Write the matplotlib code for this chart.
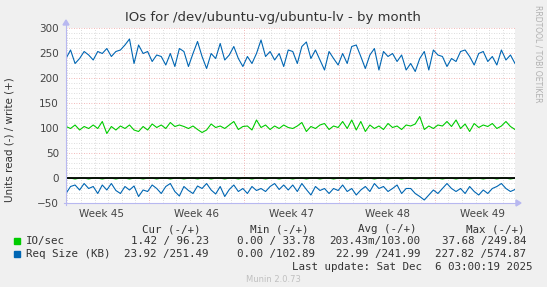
import numpy as np
import matplotlib
matplotlib.use("Agg")
import matplotlib.pyplot as plt

# Munin "IOs for /dev/ubuntu-vg/ubuntu-lv - by month" (33 days, 100 samples)
n_days = 33.0

blue_write = [239, 256, 229, 239, 253, 246, 236, 253, 249, 259,
              243, 253, 256, 266, 278, 229, 266, 249, 253, 233,
              246, 243, 226, 249, 223, 259, 253, 223, 249, 273,
              243, 219, 249, 239, 269, 236, 246, 263, 239, 223,
              243, 229, 249, 276, 243, 253, 236, 249, 223, 256,
              253, 229, 263, 272, 239, 256, 236, 216, 253, 239,
              226, 249, 229, 263, 266, 243, 219, 246, 259, 216,
              253, 243, 249, 233, 246, 216, 229, 213, 239, 253,
              216, 256, 246, 243, 223, 239, 233, 253, 256, 243,
              226, 249, 253, 233, 243, 226, 256, 236, 246, 229]

green_write = [103, 99, 106, 96, 103, 99, 106, 99, 113, 89,
               103, 96, 104, 99, 106, 96, 93, 103, 96, 108,
               101, 106, 99, 111, 103, 106, 103, 99, 104, 97,
               91, 96, 108, 101, 104, 99, 106, 113, 97, 103,
               104, 96, 116, 101, 106, 97, 104, 99, 106, 101,
               99, 104, 111, 93, 103, 99, 106, 109, 97, 104,
               101, 113, 99, 116, 96, 113, 93, 106, 99, 104,
               97, 109, 101, 104, 97, 106, 104, 108, 123, 97,
               104, 99, 106, 104, 113, 103, 116, 99, 108, 93,
               109, 101, 106, 103, 109, 99, 104, 113, 103, 97]

# read side, shown below zero
blue_read = [31, 17, 14, 24, 11, 21, 17, 31, 14, 24,
             11, 25, 31, 17, 24, 16, 37, 24, 27, 14,
             21, 31, 17, 11, 27, 36, 17, 25, 31, 16,
             21, 11, 24, 32, 17, 37, 23, 14, 27, 21,
             31, 17, 25, 21, 27, 17, 11, 23, 14, 24,
             14, 27, 11, 23, 34, 17, 25, 21, 31, 21,
             25, 14, 27, 21, 34, 24, 17, 27, 11, 21,
             17, 27, 21, 14, 31, 21, 21, 31, 37, 44,
             34, 24, 31, 21, 11, 21, 27, 21, 31, 17,
             27, 34, 24, 31, 21, 17, 11, 21, 27, 23]

green_read = [0.2, 0.2, 2.0, 0.2, 0.2, 2.0, 0.2, 0.2, 2.0, 0.2,
              0.2, 2.0, 0.2, 0.2, 2.0, 0.2, 0.2, 2.0, 0.2, 0.2,
              2.0, 0.2, 0.2, 2.0, 0.2, 0.2, 2.0, 0.2, 0.2, 2.0,
              0.2, 0.2, 2.0, 0.2, 0.2, 2.0, 0.2, 0.2, 2.0, 0.2,
              0.2, 2.0, 0.2, 0.2, 2.0, 0.2, 0.2, 2.0, 0.2, 0.2,
              2.0, 0.2, 0.2, 2.0, 0.2, 0.2, 2.0, 0.2, 0.2, 2.0,
              0.2, 0.2, 2.0, 0.2, 0.2, 2.0, 0.2, 0.2, 2.0, 0.2,
              0.2, 2.0, 0.2, 0.2, 2.0, 0.2, 0.2, 2.0, 0.2, 0.2,
              2.0, 0.2, 0.2, 2.0, 0.2, 0.2, 2.0, 0.2, 0.2, 2.0,
              0.2, 0.2, 2.0, 0.2, 0.2, 2.0, 0.2, 0.2, 2.0, 0.2]

week_labels = ["Week 45", "Week 46", "Week 47", "Week 48", "Week 49"]
week_starts = [6.1, 13.1, 20.1, 27.1]   # days from left edge

legend_rows = [
    ("IO/sec", "#00CC00", "1.42 / 96.23", "0.00 / 33.78", "203.43m/103.00", "37.68 /249.84"),
    ("Req Size (KB)", "#0066B3", "23.92 /251.49", "0.00 /102.89", "22.99 /241.99", "227.82 /574.87"),
]

W, H = 547, 287
fig = plt.figure(figsize=(W / 100, H / 100), dpi=100)
fig.patch.set_facecolor("#F0F0F0")

def fx(px):
    return px / W

def fy(py):
    return 1 - py / H

L, R, T, B = 66, 515, 28, 203
ax = fig.add_axes([fx(L), fy(B), fx(R - L), fy(T) - fy(B)])
ax.set_facecolor("white")
ax.set_xlim(0, n_days)
ax.set_ylim(-50, 300)
for s in ax.spines.values():
    s.set_visible(False)

# grid
minor_c, major_c = "#d0d0d0", "#eea0a0"
for v in range(-50, 301, 10):
    if v % 50:
        ax.axhline(v, color=minor_c, lw=0.6, ls=(0, (1, 2)), zorder=1)
    else:
        ax.axhline(v, color=major_c, lw=0.6, ls=(0, (1, 2)), zorder=1)
d = 0.1
while d < n_days:
    is_week = any(abs(d - w) < 1e-6 for w in week_starts)
    ax.axvline(d, color=major_c if is_week else minor_c, lw=0.6,
               ls=(0, (1, 2)), zorder=1)
    d = round(d + 1, 3)

t = np.linspace(0, n_days, len(blue_write))
ax.plot(t, -np.array(green_read), color="#00CC00", lw=0.8, zorder=3)
ax.axhline(0, color="black", lw=1.3, zorder=4)
ax.plot(t, -np.array(blue_read), color="#0066B3", lw=0.8, zorder=3)
ax.plot(t, green_write, color="#00CC00", lw=0.8, zorder=3)
ax.plot(t, blue_write, color="#0066B3", lw=0.8, zorder=3)

# ticks
ax.set_yticks(range(-50, 301, 50))
ax.tick_params(axis="y", length=0, pad=5, labelsize=7.5, labelcolor="#444444")
mids = [week_starts[0] - 3.5] + [w + 3.5 for w in week_starts]
ax.set_xticks(mids)
ax.set_xticklabels(week_labels)
ax.tick_params(axis="x", length=0, pad=4, labelsize=7.5, labelcolor="#444444")

# axis arrows
ax_c = "#b8b8f0"
fig.add_artist(plt.Line2D([fx(L), fx(L)], [fy(B + 2), fy(T - 4)], color=ax_c, lw=0.8))
fig.add_artist(plt.Line2D([fx(L - 2), fx(R + 2)], [fy(B), fy(B)], color=ax_c, lw=0.8))
fig.patches.append(matplotlib.patches.Polygon(
    [(fx(L - 3), fy(T - 3)), (fx(L + 3), fy(T - 3)), (fx(L), fy(T - 8))],
    closed=True, color=ax_c, transform=fig.transFigure))
fig.patches.append(matplotlib.patches.Polygon(
    [(fx(R + 1), fy(B - 3)), (fx(R + 1), fy(B + 3)), (fx(R + 6), fy(B))],
    closed=True, color=ax_c, transform=fig.transFigure))

fig.text(fx(273), fy(18), "IOs for /dev/ubuntu-vg/ubuntu-lv - by month",
         ha="center", va="center", fontsize=9.5, color="#333333")
fig.text(fx(10), fy(140), "Units read (-) / write (+)", rotation=90,
         ha="center", va="center", fontsize=7.5, color="#333333")
fig.text(fx(538), fy(5), "RRDTOOL / TOBI OETIKER", rotation=270,
         ha="center", va="top", fontsize=5.5, color="#b0b0b0")

# legend block
mono = dict(family="DejaVu Sans Mono", fontsize=7.8, color="#333333", va="center")
for txt, x in [("Cur (-/+)", 200), ("Min (-/+)", 308), ("Avg (-/+)", 416), ("Max (-/+)", 525)]:
    fig.text(fx(x), fy(229), txt, ha="right", **mono)
value_right = [209, 315, 420, 526]
for i, (name, col, *vals) in enumerate(legend_rows):
    y = 241 + 13 * i
    fig.patches.append(matplotlib.patches.Rectangle(
        (fx(14), fy(y + 3)), fx(5.5), fy(y - 3) - fy(y + 3),
        color=col, transform=fig.transFigure))
    fig.text(fx(26), fy(y), name, ha="left", **mono)
    for v, xr in zip(vals, value_right):
        fig.text(fx(xr), fy(y), v, ha="right", **mono)
fig.text(fx(532), fy(267), "Last update: Sat Dec  6 03:00:19 2025", ha="right", **mono)
fig.text(fx(273), fy(280), "Munin 2.0.73", ha="center", va="center",
         fontsize=6, color="#c0c0c0")

fig.savefig("out.png", dpi=100, facecolor=fig.get_facecolor())
